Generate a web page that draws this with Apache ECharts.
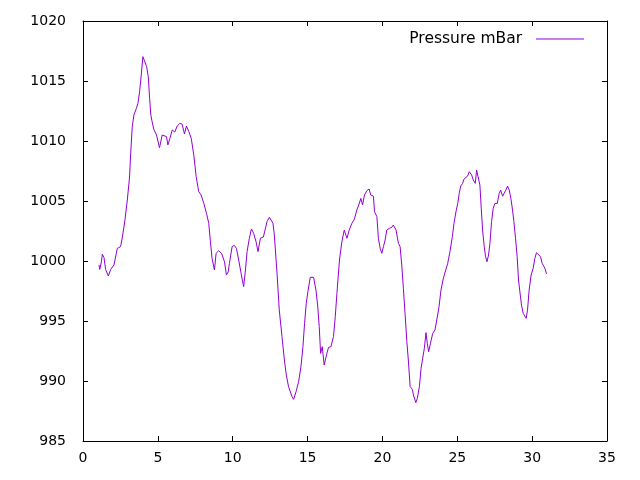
<!DOCTYPE html>
<html style="height: 100%">
<head>
    <meta charset="UTF-8">
    <title>Pressure mBar</title>
    <script src="https://cdn.jsdelivr.net/npm/echarts/dist/echarts.min.js"></script>
</head>
<body style="height: 100%; margin: 0; background: #fff">
    <div id="main" style="width: 640px; height: 480px"></div>
    <script type="text/javascript">
        // day of month
        var days = [
            1.07, 1.12, 1.23, 1.29, 1.4, 1.51, 1.69, 1.85, 2.07, 2.29, 2.51, 2.62, 2.8, 2.96,
            3.11, 3.18, 3.29, 3.4, 3.56, 3.67, 3.78, 3.89, 4.0, 4.09, 4.25, 4.36, 4.45, 4.53,
            4.62, 4.73, 4.91, 5.11, 5.29, 5.4, 5.58, 5.67, 5.8, 5.96, 6.13, 6.29, 6.47, 6.62,
            6.78, 6.91, 7.07, 7.23, 7.4, 7.56, 7.73, 7.89, 8.07, 8.25, 8.4, 8.51, 8.62, 8.78,
            8.89, 9.07, 9.2, 9.27, 9.45, 9.58, 9.7, 9.78, 9.96, 10.11, 10.25, 10.4, 10.56, 10.73,
            10.85, 10.96, 11.11, 11.25, 11.4, 11.56, 11.69, 11.85, 12.05, 12.29, 12.45, 12.69,
            12.78, 12.96, 13.11, 13.29, 13.45, 13.58, 13.73, 13.85, 13.96, 14.07, 14.23, 14.4,
            14.56, 14.69, 14.8, 14.91, 15.02, 15.18, 15.4, 15.56, 15.67, 15.78, 15.87, 15.98,
            16.11, 16.29, 16.4, 16.56, 16.73, 16.85, 16.96, 17.13, 17.29, 17.45, 17.63, 17.78,
            17.96, 18.13, 18.29, 18.42, 18.56, 18.67, 18.8, 18.96, 19.11, 19.22, 19.4, 19.47,
            19.63, 19.73, 19.85, 19.96, 20.07, 20.18, 20.29, 20.47, 20.62, 20.73, 20.91, 21.07,
            21.18, 21.29, 21.4, 21.51, 21.63, 21.73, 21.85, 22.0, 22.07, 22.23, 22.33, 22.47,
            22.58, 22.69, 22.8, 22.91, 23.0, 23.09, 23.2, 23.3, 23.36, 23.51, 23.63, 23.78,
            23.91, 24.07, 24.23, 24.36, 24.51, 24.67, 24.78, 24.91, 25.03, 25.13, 25.23, 25.36,
            25.43, 25.55, 25.69, 25.8, 25.96, 26.07, 26.2, 26.29, 26.4, 26.51, 26.6, 26.69,
            26.8, 26.89, 26.98, 27.09, 27.18, 27.29, 27.4, 27.51, 27.67, 27.8, 27.9, 28.03,
            28.13, 28.24, 28.36, 28.47, 28.58, 28.69, 28.78, 28.89, 29.0, 29.09, 29.18, 29.29,
            29.4, 29.51, 29.6, 29.69, 29.8, 29.93, 30.07, 30.18, 30.29, 30.42, 30.56, 30.67,
            30.78, 30.87, 30.96
        ];
        // pressure, mBar
        var pressure = [
            999.67, 999.3, 999.94, 1000.56, 1000.3, 999.3, 998.75, 999.3, 999.67, 1001.05, 1001.2, 1001.9, 1003.4, 1005.08,
            1007.0, 1008.83, 1011.2, 1012.17, 1012.7, 1013.14, 1014.1, 1015.5, 1017.03, 1016.9, 1016.2, 1015.36, 1013.56, 1012.17,
            1011.6, 1010.97, 1010.5, 1009.44, 1010.5, 1010.6, 1010.36, 1009.67, 1010.2, 1010.92, 1010.75, 1011.25, 1011.47, 1011.4,
            1010.58, 1011.25, 1010.78, 1010.22, 1008.83, 1007.03, 1005.78, 1005.5, 1004.8, 1003.97, 1003.14, 1001.6, 1000.22, 999.25,
            1000.64, 1000.86, 1001.0, 1000.6, 999.94, 998.83, 999.1, 999.8, 1001.2, 1001.3, 1001.05, 1000.08, 998.97, 997.86,
            999.25, 1000.78, 1001.89, 1002.67, 1002.3, 1001.6, 1000.78, 1001.9, 1002.0, 1003.28, 1003.64, 1003.14,
            1002.17, 998.97, 995.92, 993.7, 991.75, 990.5, 989.53, 989.4, 988.7, 988.47, 989.1, 989.94,
            991.2, 992.86, 994.8, 996.47, 997.44, 998.64, 998.64, 997.58, 996.33, 994.53, 992.3, 992.86,
            991.33, 992.3, 992.8, 992.86, 993.7, 995.36, 997.3, 1000.08, 1001.6, 1002.58, 1001.89, 1002.58,
            1003.14, 1003.5, 1004.25, 1004.67, 1005.22, 1004.67, 1005.5, 1005.86, 1006.0, 1005.5, 1005.4, 1004.1,
            1003.7, 1001.89, 1001.05, 1000.64, 1001.2, 1001.75, 1002.58, 1002.72, 1002.8, 1003.0, 1002.58, 1001.47,
            1001.2, 999.67, 997.72, 995.64, 993.28, 991.75, 989.53, 989.3, 988.83, 988.2, 988.55, 989.53,
            991.06, 991.9, 992.72, 994.03, 993.1, 992.44, 993.1, 993.0, 993.97, 994.25, 995.08, 996.19,
            997.58, 998.56, 999.25, 999.8, 1000.78, 1002.03, 1003.14, 1004.1, 1004.8, 1005.64, 1006.25, 1006.47,
            1006.8, 1006.64, 1007.08, 1007.44, 1007.17, 1006.75, 1006.47, 1007.58, 1007.44, 1006.33, 1004.4, 1002.58,
            1001.2, 1000.36, 999.94, 1000.5, 1001.47, 1003.28, 1004.4, 1004.8, 1004.8, 1005.64, 1005.9, 1005.4,
            1005.64, 1005.9, 1006.25, 1005.9, 1005.22, 1004.25, 1003.28, 1001.89, 1000.36, 998.42, 997.44, 996.33,
            995.64, 995.5, 995.22, 995.9, 997.58, 998.83, 999.4, 1000.22, 1000.69, 1000.64, 1000.36, 999.8,
            999.56, 999.33, 998.92
        ];

        var chart = echarts.init(document.getElementById('main'));

        var font = 'DejaVu Sans';
        var plain = function (v) { return String(v); };
        var axisCommon = {
            type: 'value',
            splitLine: { show: false },
            axisLine: { show: true, onZero: false, lineStyle: { color: '#000', width: 1 } },
            axisTick: { show: true, inside: true, length: 5, lineStyle: { color: '#000' } }
        };

        var option = {
            animation: false,
            backgroundColor: '#fff',
            grid: { left: 83, right: 33, top: 21, bottom: 39 },
            legend: {
                right: 51,
                top: 26,
                align: 'right',
                icon: 'rect',
                itemWidth: 48,
                itemHeight: 1,
                textStyle: { fontFamily: font, fontSize: 15.5, color: '#000', padding: [0, 9, 0, 0] },
                data: ['Pressure mBar']
            },
            xAxis: [
                Object.assign({}, axisCommon, {
                    min: 0, max: 35, interval: 5, position: 'bottom',
                    axisLabel: { fontFamily: font, fontSize: 14, color: '#000', margin: 10, formatter: plain }
                }),
                Object.assign({}, axisCommon, {
                    min: 0, max: 35, interval: 5, position: 'top',
                    axisLabel: { show: false }
                })
            ],
            yAxis: [
                Object.assign({}, axisCommon, {
                    min: 985, max: 1020, interval: 5, position: 'left',
                    axisLabel: { fontFamily: font, fontSize: 14, color: '#000', margin: 17, formatter: plain }
                }),
                Object.assign({}, axisCommon, {
                    min: 985, max: 1020, interval: 5, position: 'right',
                    axisLabel: { show: false }
                })
            ],
            series: [{
                name: 'Pressure mBar',
                type: 'line',
                showSymbol: false,
                lineStyle: { color: '#9400d3', width: 1 },
                itemStyle: { color: '#9400d3' },
                data: days.map(function (d, i) { return [d, pressure[i]]; })
            }]
        };

        chart.setOption(option);
    </script>
</body>
</html>
